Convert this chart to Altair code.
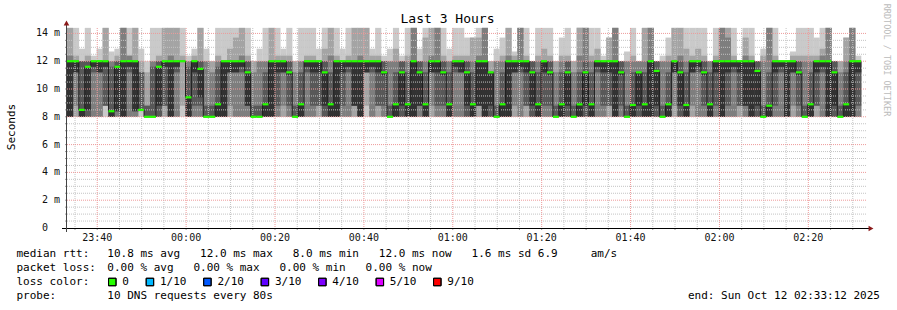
import altair as alt
import pandas as pd

# ------------------------------------------------------------------ data
STEP_SEC = 80            # one probe round every 80 s
RANGE_MIN = 180          # last 3 hours
Y_MAX = 14.39            # top of the plot area (ms)

# 10 sorted ping times (ms) per 80 s step, read from the smoke
ping_rows = [
    "8.0 8.0 8.0 8.0 8.0 12.0 12.0 12.4 14.4 14.4",
    "8.0 8.0 8.8 11.2 11.2 12.0 12.0 12.0 12.4 14.4",
    "8.0 8.0 8.0 8.0 8.0 8.5 12.0 12.0 12.0 12.9",
    "8.0 8.0 8.0 8.0 8.5 11.6 12.0 12.0 12.4 14.4",
    "8.0 8.0 8.0 11.2 11.6 12.0 12.0 12.0 12.0 12.4",
    "8.0 8.0 8.0 11.2 11.2 12.0 12.0 12.0 12.0 12.9",
    "8.0 8.8 8.8 8.8 11.6 12.0 12.0 12.0 14.4 14.4",
    "8.0 8.0 8.0 8.0 8.0 8.4 11.6 12.0 12.0 12.7",
    "8.0 8.0 8.0 8.4 8.4 11.6 12.0 12.0 12.4 12.9",
    "8.0 8.0 8.0 8.0 8.0 12.0 12.0 14.4 14.4 14.4",
    "8.0 8.0 8.0 11.2 11.6 12.0 12.0 12.4 12.4 14.4",
    "8.0 8.0 8.0 8.4 8.4 12.0 12.0 12.0 14.4 14.4",
    "8.0 8.4 8.5 8.5 8.5 8.5 11.2 11.2 12.0 12.9",
    "8.0 8.0 8.0 8.0 8.0 8.0 8.8 8.8 11.2 12.0",
    "8.0 8.0 8.0 8.0 8.0 8.0 11.6 12.0 12.0 14.4",
    "8.0 8.0 8.0 8.0 8.8 11.6 12.0 12.0 12.4 14.4",
    "8.0 8.0 8.8 8.8 11.6 12.0 12.0 12.0 14.4 14.4",
    "8.0 8.0 8.0 8.0 8.0 12.0 12.0 12.4 14.4 14.4",
    "8.0 8.0 8.0 11.2 11.6 12.0 12.0 12.0 14.4 14.4",
    "8.0 8.8 12.0 12.0 12.0 12.0 12.0 12.0 12.4 14.4",
    "8.0 8.0 8.0 8.0 8.0 9.4 11.6 12.0 12.0 12.4",
    "8.0 8.0 8.0 8.8 11.2 12.0 12.0 12.0 12.4 12.9",
    "8.0 8.0 8.0 8.8 9.4 11.45 12.0 12.0 14.4 14.4",
    "8.0 8.0 8.0 8.0 8.0 8.0 8.8 12.0 12.0 12.9",
    "8.0 8.0 8.0 8.0 8.0 8.0 8.8 11.2 12.0 12.0",
    "8.0 8.0 8.0 8.0 8.0 8.9 11.6 12.0 12.4 14.4",
    "8.0 8.0 8.0 8.0 8.0 12.0 12.0 12.0 12.0 14.4",
    "8.0 8.0 8.8 11.2 11.2 12.0 12.0 12.0 12.9 14.4",
    "8.0 8.0 8.0 11.2 11.2 12.0 12.0 12.0 13.7 14.4",
    "8.0 8.0 8.0 11.2 11.6 12.0 12.0 12.4 14.4 14.4",
    "8.0 8.0 8.0 8.8 8.8 11.2 12.0 12.0 12.4 14.4",
    "8.0 8.0 8.0 8.0 8.0 8.0 8.8 11.2 12.0 12.0",
    "8.0 8.0 8.0 8.0 8.0 8.0 8.8 12.0 12.0 12.9",
    "8.0 8.0 8.0 8.0 8.0 8.9 11.2 12.0 12.0 14.4",
    "8.0 8.0 8.0 8.0 8.0 12.0 12.0 12.0 14.4 14.4",
    "8.0 8.0 8.0 8.8 11.2 12.0 12.0 12.0 12.4 14.4",
    "8.0 8.0 8.8 11.2 11.2 12.0 12.0 12.0 12.4 12.9",
    "8.0 8.0 8.0 8.8 11.0 11.2 12.0 12.0 12.4 14.4",
    "8.0 8.0 8.0 8.0 8.0 8.0 8.8 11.2 12.0 12.0",
    "8.0 8.0 8.0 8.0 8.0 8.9 11.2 12.0 12.0 14.4",
    "8.0 8.0 8.0 11.2 11.6 12.0 12.0 12.0 12.4 14.4",
    "8.0 8.0 8.0 8.8 11.2 12.0 12.0 12.0 12.4 14.4",
    "8.0 8.0 8.8 8.8 11.2 12.0 12.0 12.0 12.0 12.9",
    "8.0 8.0 8.0 8.0 8.8 11.2 12.0 12.0 12.9 14.4",
    "8.0 8.0 8.0 8.0 8.0 8.9 11.2 12.4 14.4 14.4",
    "8.0 8.0 8.0 8.0 8.0 12.0 12.0 12.0 12.4 14.4",
    "8.0 8.0 8.0 8.8 11.2 12.0 12.0 12.0 12.0 12.9",
    "8.0 8.0 8.0 11.2 11.6 12.0 12.0 12.0 12.4 14.4",
    "8.0 8.0 8.8 8.8 8.8 12.0 12.0 12.0 14.4 14.4",
    "8.0 8.0 8.0 8.0 8.0 12.0 12.0 12.4 14.4 14.4",
    "8.0 8.8 11.2 11.2 11.2 12.0 12.0 12.0 14.4 14.4",
    "8.0 8.0 8.0 11.2 11.6 12.0 12.0 12.0 12.4 12.9",
    "8.0 8.0 8.8 8.8 11.2 12.0 12.0 12.0 12.4 14.4",
    "8.0 8.0 8.0 8.8 11.0 11.2 12.0 12.0 12.0 12.4",
    "8.0 8.0 8.0 8.0 8.0 8.0 8.8 12.0 12.0 12.9",
    "8.0 8.0 8.0 8.0 8.0 8.9 11.2 12.0 12.9 14.4",
    "8.0 8.0 8.0 8.0 8.8 11.2 12.0 12.0 12.0 12.4",
    "8.0 8.0 8.0 8.0 8.0 8.9 11.2 12.0 12.4 14.4",
    "8.0 8.0 8.0 8.0 8.0 12.0 12.0 14.4 14.4 14.4",
    "8.0 8.0 8.0 8.8 8.8 11.2 12.0 12.0 12.0 12.9",
    "8.0 8.0 8.0 8.0 8.0 8.9 11.2 12.0 13.7 14.4",
    "8.0 8.0 8.8 11.2 11.2 12.0 12.0 12.4 14.4 14.4",
    "8.0 8.0 8.0 8.8 11.2 12.0 12.0 14.4 14.4 14.4",
    "8.0 8.0 8.0 8.8 11.0 11.2 12.0 12.0 12.4 14.4",
    "8.0 8.0 8.0 8.0 8.0 8.9 11.2 12.0 12.0 12.9",
    "8.0 8.0 8.0 11.2 11.6 12.0 12.0 12.0 12.4 14.4",
    "8.0 8.0 8.0 11.2 11.2 12.0 12.0 12.0 12.4 14.4",
    "8.0 8.0 8.0 8.0 8.8 11.2 12.0 12.0 12.4 13.7",
    "8.0 8.0 8.0 8.0 8.0 8.9 11.2 12.0 13.7 13.7",
    "8.0 8.0 8.8 8.8 8.8 12.0 12.0 12.4 13.7 14.4",
    "8.0 8.0 8.0 8.0 8.0 12.0 12.0 14.4 14.4 14.4",
    "8.0 8.0 8.0 8.0 8.8 11.2 11.2 11.2 12.0 12.0",
    "8.0 8.0 8.0 8.0 8.0 8.0 8.8 12.0 12.0 12.9",
    "8.0 8.0 8.0 8.0 8.0 8.9 11.2 12.0 12.4 13.7",
    "8.0 8.0 8.0 8.0 8.0 12.0 12.0 12.4 14.4 14.4",
    "8.0 8.0 8.8 11.2 11.2 12.0 12.0 12.0 12.4 12.7",
    "8.0 8.0 8.0 11.2 11.6 12.0 12.0 14.4 14.4 14.4",
    "8.0 8.0 8.8 8.8 11.2 12.0 12.0 12.0 12.4 14.4",
    "8.0 8.0 8.0 8.0 8.8 11.2 12.0 12.0 12.0 12.0",
    "8.0 8.0 8.0 8.0 8.0 8.9 11.2 12.0 12.4 14.4",
    "8.0 8.0 8.0 8.8 11.2 12.0 12.0 12.0 12.9 14.4",
    "8.0 8.0 8.0 8.8 11.0 11.2 12.0 12.0 12.4 14.4",
    "8.0 8.0 8.0 8.0 8.0 8.0 8.8 11.2 12.0 12.0",
    "8.0 8.0 8.0 8.0 8.0 8.9 11.2 12.0 12.4 13.7",
    "8.0 8.0 8.0 8.0 8.8 11.2 12.0 12.0 12.4 14.4",
    "8.0 8.0 8.0 8.0 8.0 8.0 8.8 11.2 12.0 12.0",
    "8.0 8.0 8.0 8.0 8.0 8.9 11.2 12.4 14.4 14.4",
    "8.0 8.0 8.0 8.0 8.8 11.2 12.0 14.4 14.4 14.4",
    "8.0 8.0 8.0 8.0 8.0 8.9 11.2 12.0 12.4 14.4",
    "8.0 8.0 8.0 11.2 11.6 12.0 12.0 12.0 12.9 14.4",
    "8.0 8.0 8.0 8.8 11.2 12.0 12.0 12.0 12.0 12.4",
    "8.0 8.0 8.8 8.8 11.2 12.0 12.0 12.0 13.7 13.7",
    "8.0 8.0 8.0 8.0 8.0 12.0 12.0 14.4 14.4 14.4",
    "8.0 8.0 8.0 8.8 11.0 11.2 12.0 12.0 12.0 12.0",
    "8.0 8.0 8.0 8.0 8.0 8.0 8.8 12.0 12.0 12.7",
    "8.0 8.0 8.0 8.0 8.0 8.85 11.2 12.0 12.4 14.4",
    "8.0 8.0 8.0 8.0 8.8 11.2 11.2 12.0 12.0 12.0",
    "8.0 8.0 8.0 8.0 8.0 8.9 11.2 12.0 14.4 14.4",
    "8.0 8.0 8.0 8.0 8.0 12.0 12.0 14.4 14.4 14.4",
    "8.0 8.0 8.0 8.0 8.8 11.3 12.0 12.0 12.0 12.0",
    "8.0 8.0 8.0 8.0 8.0 8.0 8.8 12.0 12.0 12.4",
    "8.0 8.0 8.0 8.0 8.0 8.9 11.2 12.0 12.4 13.7",
    "8.0 8.0 8.8 11.2 11.2 12.0 12.0 12.0 14.4 14.4",
    "8.0 8.0 8.0 8.0 8.8 11.2 12.0 12.4 14.4 14.4",
    "8.0 8.0 8.0 8.0 8.0 8.85 11.2 12.0 12.9 14.4",
    "8.0 8.0 8.8 11.2 11.2 12.0 12.0 12.0 12.4 14.4",
    "8.0 8.0 8.0 11.2 11.6 12.0 12.0 12.0 12.9 14.4",
    "8.0 8.0 8.0 8.8 11.0 11.2 12.0 12.0 12.4 14.4",
    "8.0 8.0 8.0 8.0 8.0 8.9 11.2 12.0 12.0 12.0",
    "8.0 8.0 8.0 8.8 11.2 12.0 12.0 12.0 12.4 14.4",
    "8.0 8.0 8.0 8.0 8.0 12.0 12.0 14.4 14.4 14.4",
    "8.0 8.0 8.0 8.8 11.2 12.0 12.0 13.7 14.4 14.4",
    "8.0 8.0 8.0 11.2 11.6 12.0 12.0 12.0 12.4 14.4",
    "8.0 8.0 8.8 8.8 11.2 12.0 12.0 12.0 12.0 12.0",
    "8.0 8.0 8.0 8.8 8.8 12.0 12.0 12.4 13.7 14.4",
    "8.0 8.0 8.0 8.0 8.0 12.0 12.0 12.0 12.4 14.4",
    "8.0 8.0 8.0 8.0 8.8 11.3 12.0 12.0 12.0 12.0",
    "8.0 8.0 8.0 8.0 8.0 8.0 8.8 12.0 12.4 12.9",
    "8.0 8.0 8.0 8.0 8.0 8.8 11.2 14.4 14.4 14.4",
    "8.0 8.0 8.0 8.8 11.2 12.0 12.0 12.0 12.4 14.4",
    "8.0 8.0 8.0 11.2 11.6 12.0 12.0 12.0 12.0 12.0",
    "8.0 8.0 8.0 8.0 8.0 12.0 12.0 12.0 12.0 12.0",
    "8.0 8.0 8.8 11.2 11.2 12.0 12.0 12.0 12.4 12.7",
    "8.0 8.0 8.0 8.8 11.0 11.2 12.0 12.0 12.4 14.4",
    "8.0 8.0 8.0 8.0 8.0 8.0 8.8 12.0 12.4 14.4",
    "8.0 8.0 8.0 8.0 8.0 8.9 11.2 12.0 12.4 14.4",
    "8.0 8.0 8.8 8.8 11.2 12.0 12.0 12.0 12.4 13.7",
    "8.0 8.0 8.0 11.2 11.6 12.0 12.0 12.4 12.9 14.4",
    "8.0 8.0 8.0 8.0 8.0 12.0 12.0 14.4 14.4 14.4",
    "8.0 8.0 8.0 8.0 8.8 11.2 12.0 12.0 12.0 12.0",
    "8.0 8.0 8.0 8.0 8.0 8.0 8.8 11.2 12.0 12.0",
    "8.0 8.0 8.0 8.0 8.0 8.9 11.2 12.0 13.7 13.7",
    "8.0 8.0 8.0 8.0 8.0 12.0 12.0 14.4 14.4 14.4",
    "8.0 8.0 8.0 8.8 11.2 12.0 12.0 12.0 12.0 12.4",
]

# median rtt (ms) per step
medians = [
    12.0, 12.0, 8.5, 11.6, 12.0, 12.0, 12.0, 8.4, 11.6, 12.0,
    12.0, 12.0, 8.5, 8.0, 8.0, 11.6, 12.0, 12.0, 12.0, 12.0,
    9.4, 12.0, 11.45, 8.0, 8.0, 8.9, 12.0, 12.0, 12.0, 12.0,
    11.2, 8.0, 8.0, 8.9, 12.0, 12.0, 12.0, 11.2, 8.0, 8.9,
    12.0, 12.0, 12.0, 11.2, 8.9, 12.0, 12.0, 12.0, 12.0, 12.0,
    12.0, 12.0, 12.0, 11.2, 8.0, 8.9, 11.2, 8.9, 12.0, 11.2,
    8.9, 12.0, 12.0, 11.2, 8.9, 12.0, 12.0, 11.2, 8.9, 12.0,
    12.0, 11.2, 8.0, 8.9, 12.0, 12.0, 12.0, 12.0, 11.2, 8.9,
    12.0, 11.2, 8.0, 8.9, 11.2, 8.0, 8.9, 11.2, 8.9, 12.0,
    12.0, 12.0, 12.0, 11.2, 8.0, 8.85, 11.2, 8.9, 12.0, 11.3,
    8.0, 8.9, 12.0, 11.2, 8.85, 12.0, 12.0, 11.2, 8.9, 12.0,
    12.0, 12.0, 12.0, 12.0, 12.0, 12.0, 11.3, 8.0, 8.8, 12.0,
    12.0, 12.0, 12.0, 11.2, 8.0, 8.9, 12.0, 12.0, 12.0, 11.2,
    8.0, 8.9, 12.0, 12.0,
]

x_tick_labels = ["23:40", "00:00", "00:20", "00:40", "01:00",
                 "01:20", "01:40", "02:00", "02:20"]
FIRST_MAJOR_MIN = 6.8          # 23:40:00 is 6.8 min after 23:33:12
y_tick_values = [0, 2, 4, 6, 8, 10, 12, 14]
y_tick_units = ["", "m", "m", "m", "m", "m", "m", "m"]

smoke_greys = ["#cacaca", "#a4a4a4", "#7e7e7e", "#585858", "#323232"]
loss_labels = ["0", "1/10", "2/10", "3/10", "4/10", "5/10", "9/10"]
loss_colors = ["#26ff00", "#00b8ff", "#0059ff", "#5e00ff", "#7e00ff", "#dd00ff", "#ff0000"]

title_text = "Last 3 Hours"
y_title = "Seconds"
watermark = "RRDTOOL / TOBI OETIKER"
legend_rows = [
    ("median rtt:", "10.8 ms avg   12.0 ms max   8.0 ms min   12.0 ms now   1.6 ms sd 6.9     am/s"),
    ("packet loss:", "0.00 % avg   0.00 % max   0.00 % min   0.00 % now"),
    ("loss color:", ""),
    ("probe:", "10 DNS requests every 80s"),
]
end_text = "end: Sun Oct 12 02:33:12 2025"

# ------------------------------------------------------------------ frames
STEP_MIN = STEP_SEC / 60.0
W, H = 800, 200
MONO = "DejaVu Sans Mono"
NB = "\u00a0"

smoke = []
for k, row in enumerate(ping_rows):
    p = [float(v) for v in row.split()]
    for i in range(5):
        lo, hi = p[i], p[9 - i]
        if hi > lo:
            smoke.append({"x0": k * STEP_MIN, "x1": (k + 1) * STEP_MIN + 0.05,
                          "lo": lo, "hi": hi, "layer": i})
smoke_df = pd.DataFrame(smoke)

med_df = pd.DataFrame({
    "x0": [k * STEP_MIN for k in range(len(medians))],
    "x1": [(k + 1) * STEP_MIN for k in range(len(medians))],
    "m": medians,
})
med_df["mlo"] = med_df["m"] - 0.08
med_df["mhi"] = med_df["m"] + 0.08
line_df = pd.DataFrame({
    "x": [k * STEP_MIN for k in range(len(medians) + 1)],
    "m": medians + [medians[-1]],
})

minor_x = [1.8 + 5 * j for j in range(36) if 1.8 + 5 * j < RANGE_MIN]
major_x = [FIRST_MAJOR_MIN + 20 * i for i in range(len(x_tick_labels))]
minor_x = [v for v in minor_x if all(abs(v - m) > 1e-6 for m in major_x)]
minor_y = [0.5 * j for j in range(1, 29) if (0.5 * j) % 2 != 0]
major_y = [v for v in y_tick_values if v > 0]

xs = alt.Scale(domain=[0, RANGE_MIN], nice=False, zero=False)
ys = alt.Scale(domain=[0, Y_MAX], nice=False, zero=False)


def X(f):
    return alt.X(f, type="quantitative", scale=xs, axis=None)


def Y(f):
    return alt.Y(f, type="quantitative", scale=ys, axis=None)


one = pd.DataFrame({"a": [0]})
layers = []

# smoke
for i, col in enumerate(smoke_greys):
    d = smoke_df[smoke_df["layer"] == i]
    layers.append(alt.Chart(d).mark_rect(color=col).encode(
        x=X("x0"), x2="x1", y=Y("lo"), y2="hi"))

# grid
GRID_C = "#c4c4c4"
MGRID_C = "#ee9a9a"
layers.append(alt.Chart(pd.DataFrame({"x": minor_x})).mark_rule(
    color=GRID_C, strokeDash=[1, 1], strokeWidth=1).encode(
    x=X("x"), y=alt.value(0), y2=alt.value(H)))
layers.append(alt.Chart(pd.DataFrame({"y": minor_y})).mark_rule(
    color=GRID_C, strokeDash=[1, 1], strokeWidth=1).encode(
    y=Y("y"), x=alt.value(0), x2=alt.value(W)))
layers.append(alt.Chart(pd.DataFrame({"x": major_x})).mark_rule(
    color=MGRID_C, strokeDash=[1, 1], strokeWidth=1).encode(
    x=X("x"), y=alt.value(0), y2=alt.value(H)))
layers.append(alt.Chart(pd.DataFrame({"y": major_y})).mark_rule(
    color=MGRID_C, strokeDash=[1, 1], strokeWidth=1).encode(
    y=Y("y"), x=alt.value(0), x2=alt.value(W)))

# tick stubs on the axes
layers.append(alt.Chart(pd.DataFrame({"y": minor_y + major_y})).mark_rule(
    color="#9a9a9a").encode(y=Y("y"), x=alt.value(-2), x2=alt.value(0)))
layers.append(alt.Chart(pd.DataFrame({"x": minor_x + major_x})).mark_rule(
    color="#9a9a9a").encode(x=X("x"), y=alt.value(H), y2=alt.value(H + 2)))

# median: dark step line, then green band per step
layers.append(alt.Chart(line_df).mark_line(
    interpolate="step-after", color="#202020", strokeWidth=1).encode(
    x=X("x"), y=Y("m")))
layers.append(alt.Chart(med_df).mark_rect(color=loss_colors[0]).encode(
    x=X("x0"), x2="x1", y=Y("mlo"), y2="mhi"))

# axes
layers.append(alt.Chart(one).mark_rule(color="#000000", strokeWidth=1).encode(
    x=alt.value(-5), x2=alt.value(W + 3), y=alt.value(H + 0.5)))
layers.append(alt.Chart(one).mark_rule(color="#444444", strokeWidth=1).encode(
    x=alt.value(-0.5), y=alt.value(H + 4), y2=alt.value(-3)))
layers.append(alt.Chart(one).mark_point(
    shape="triangle-up", filled=True, color="#8b1a1a", size=32, opacity=1).encode(
    x=alt.value(-0.5), y=alt.value(-5)))
layers.append(alt.Chart(one).mark_point(
    shape="triangle-right", filled=True, color="#8b1a1a", size=32, opacity=1).encode(
    x=alt.value(W + 4), y=alt.value(H + 0.5)))

# y tick labels
ylab = pd.DataFrame({"v": y_tick_values, "u": y_tick_units,
                     "n": [str(v) for v in y_tick_values]})
layers.append(alt.Chart(ylab).mark_text(
    font=MONO, fontSize=10, align="right", baseline="middle", color="#111111").encode(
    y=Y("v"), x=alt.value(-19), text="n:N"))
layers.append(alt.Chart(ylab).mark_text(
    font=MONO, fontSize=10, align="left", baseline="middle", color="#111111").encode(
    y=Y("v"), x=alt.value(-13), text="u:N"))

# x tick labels
xlab = pd.DataFrame({"x": major_x, "t": x_tick_labels})
layers.append(alt.Chart(xlab).mark_text(
    font=MONO, fontSize=10, align="center", baseline="middle", color="#111111").encode(
    x=X("x"), y=alt.value(H + 10), text="t:N"))

# title, y title, watermark
layers.append(alt.Chart(pd.DataFrame({"t": [title_text]})).mark_text(
    font=MONO, fontSize=13, align="center", baseline="middle", color="#000000").encode(
    x=alt.value(380.5), y=alt.value(-9), text="t:N"))
layers.append(alt.Chart(pd.DataFrame({"t": [y_title]})).mark_text(
    font=MONO, fontSize=11, align="center", baseline="middle", angle=270,
    color="#000000").encode(x=alt.value(-55), y=alt.value(99), text="t:N"))
layers.append(alt.Chart(pd.DataFrame({"t": [watermark]})).mark_text(
    font=MONO, fontSize=8.5, align="center", baseline="middle", angle=90,
    color="#bbbbbb").encode(x=alt.value(820), y=alt.value(32), text="t:N"))

# legend text
leg = pd.DataFrame({
    "lab": [r[0].replace(" ", NB) for r in legend_rows],
    "val": [r[1].replace(" ", NB) for r in legend_rows],
    "yy": [226 + 14 * i for i in range(len(legend_rows))],
})
layers.append(alt.Chart(leg).mark_text(
    font=MONO, fontSize=11, align="left", baseline="middle", color="#000000").encode(
    x=alt.value(-50.5), y=alt.Y("yy:Q", scale=None), text="lab:N"))
layers.append(alt.Chart(leg).mark_text(
    font=MONO, fontSize=11, align="left", baseline="middle", color="#000000").encode(
    x=alt.value(40.3), y=alt.Y("yy:Q", scale=None), text="val:N"))

# loss colour swatches
CW = 6.62
sx, cx = [], 41.3
for lab in loss_labels:
    sx.append(cx)
    cx += 31 + CW * len(lab)
sw = pd.DataFrame({"sx": [v + 4 for v in sx], "tx": [v + 14 for v in sx],
                   "lab": loss_labels, "col": loss_colors})
layers.append(alt.Chart(sw).mark_point(
    shape="square", filled=True, size=56, stroke="#000000", strokeWidth=1,
    opacity=1).encode(
    x=alt.X("sx:Q", scale=None), y=alt.value(254),
    fill=alt.Fill("col:N", scale=None), color=alt.Color("col:N", scale=None)))
layers.append(alt.Chart(sw).mark_point(
    shape="square", filled=False, size=56, color="#000000", strokeWidth=1,
    opacity=1).encode(x=alt.X("sx:Q", scale=None), y=alt.value(254)))
layers.append(alt.Chart(sw).mark_text(
    font=MONO, fontSize=11, align="left", baseline="middle", color="#000000").encode(
    x=alt.X("tx:Q", scale=None), y=alt.value(254), text="lab:N"))

layers.append(alt.Chart(pd.DataFrame({"t": [end_text.replace(" ", NB)]})).mark_text(
    font=MONO, fontSize=11, align="right", baseline="middle", color="#000000").encode(
    x=alt.value(813), y=alt.value(268), text="t:N"))

chart = alt.layer(*layers).properties(
    width=W, height=H,
    padding={"left": 67, "top": 28, "right": 30, "bottom": 82},
    autosize=alt.AutoSizeParams(type="none"),
    background="#ffffff",
).configure_view(stroke=None)

chart.save("out.html", embed_options={"renderer": "svg", "actions": False})
